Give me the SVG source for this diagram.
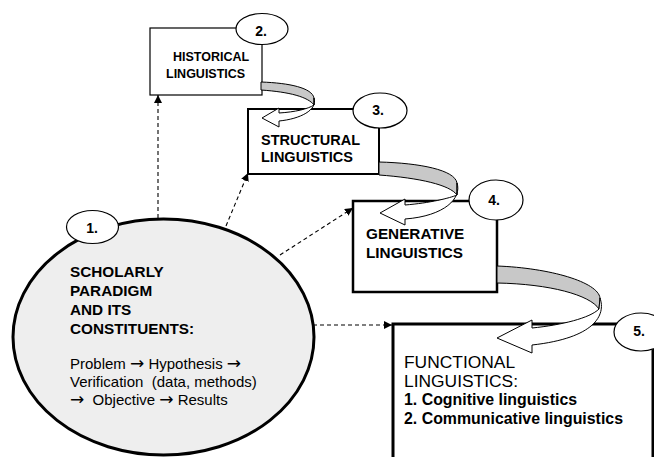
<svg xmlns="http://www.w3.org/2000/svg" width="654" height="457" viewBox="0 0 654 457">
<defs>
<style>
text{font-family:"Liberation Sans",Arial,sans-serif;fill:#000}
.b{font-weight:bold}
.ar{font-family:"DejaVu Sans",sans-serif;font-size:17px}
.box{fill:#fff;stroke:#000}
.tag{fill:#fff;stroke:#000;stroke-width:1.2}
.dash{fill:none;stroke:#000;stroke-width:1.1;stroke-dasharray:4 3;marker-end:url(#ah)}
.back{fill:#c8c8c8;stroke:#000;stroke-width:1}
.front{fill:#fff;stroke:#000;stroke-width:1}
.num{font-size:14px;font-weight:bold;text-anchor:middle}
</style>
<marker id="ah" viewBox="0 0 10 10" refX="10" refY="5" markerWidth="8" markerHeight="8" markerUnits="userSpaceOnUse" orient="auto">
<path d="M0,0 L10,5 L0,10 Z" fill="#000"/>
</marker>
</defs>
<rect width="654" height="457" fill="#fff"/>

<g id="node-historical">
<rect class="box" x="150" y="28" width="112" height="67" stroke-width="1.2"/>
<text class="b" font-size="12.5" x="173" y="61">HISTORICAL</text>
<text class="b" font-size="12.5" x="166" y="78">LINGUISTICS</text>
<ellipse class="tag" cx="262" cy="29" rx="26" ry="15.5"/>
<text class="num" x="261" y="36">2.</text>
</g>

<g id="node-structural">
<rect class="box" x="248" y="109" width="131" height="65" stroke-width="2"/>
<text class="b" font-size="14.5" x="261" y="145">STRUCTURAL</text>
<text class="b" font-size="14.5" x="261" y="162">LINGUISTICS</text>
<ellipse class="tag" cx="380" cy="110.5" rx="27" ry="17.5"/>
<text class="num" x="378" y="115">3.</text>
</g>

<g id="node-generative">
<rect class="box" x="353" y="201" width="144" height="91" stroke-width="2.5"/>
<text class="b" font-size="15.3" x="366" y="239">GENERATIVE</text>
<text class="b" font-size="15.3" x="366" y="258">LINGUISTICS</text>
<ellipse class="tag" cx="496" cy="200" rx="27" ry="20"/>
<text class="num" x="494" y="205">4.</text>
</g>

<g id="node-functional">
<rect class="box" x="393" y="324" width="260" height="150" stroke-width="3"/>
<text font-size="17.4" x="404" y="368">FUNCTIONAL</text>
<text font-size="17.4" x="404" y="387">LINGUISTICS:</text>
<text class="b" font-size="15.9" x="404" y="405">1. Cognitive linguistics</text>
<text class="b" font-size="15.9" x="404" y="424">2. Communicative linguistics</text>
<ellipse class="tag" cx="641" cy="332" rx="27" ry="19"/>
<text class="num" x="639" y="336">5.</text>
</g>

<g id="connectors">
<line class="dash" x1="158" y1="218" x2="158" y2="95"/>
<line class="dash" x1="226" y1="226" x2="248" y2="173"/>
<line class="dash" x1="280" y1="255" x2="353" y2="208"/>
<line class="dash" x1="313" y1="325" x2="392" y2="325"/>

<path class="back" d="M261 82 C290 83 312 88 314 98 L314 105 C308 97 290 92 261 90 Z"/>
<path class="front" d="M314 98 C318 110 300 119 279 121 L279 127 L262 118 L279 108 L279 113 C295 112 308 109 314 105 Z"/>

<path class="back" d="M379 162 C420 163 455 170 457 183 L457 195 C450 185 420 178 379 175 Z"/>
<path class="front" d="M457 183 C462 198 445 216 405 219 L405 225 L380 213 L405 199 L405 205 C430 203 450 198 457 195 Z"/>

<path class="back" d="M497 266 C550 268 598 282 600 298 L599 309 C590 295 550 284 497 283 Z"/>
<path class="front" d="M600 298 C606 315 595 338 532 345 L532 353 L497 338 L532 320 L532 328 C562 325 590 318 599 309 Z"/>
</g>

<g id="node-paradigm">
<ellipse cx="163.5" cy="337" rx="150.5" ry="118" fill="#eeeeee" stroke="#000" stroke-width="3"/>
<ellipse class="tag" cx="92.5" cy="227" rx="26" ry="16.5"/>
<text class="num" x="92" y="233">1.</text>
<text class="b" font-size="15.3" x="70" y="277">SCHOLARLY</text>
<text class="b" font-size="15.3" x="70" y="296">PARADIGM</text>
<text class="b" font-size="15.3" x="70" y="315">AND ITS</text>
<text class="b" font-size="15.3" x="70" y="334">CONSTITUENTS:</text>
<text font-size="15" x="70" y="369">Problem <tspan class="ar">→</tspan> Hypothesis <tspan class="ar">→</tspan></text>
<text font-size="15" x="70" y="387" xml:space="preserve">Verification  (data, methods)</text>
<text font-size="15" x="70" y="405" xml:space="preserve"><tspan class="ar">→</tspan>  Objective <tspan class="ar">→</tspan> Results</text>
</g>
</svg>
